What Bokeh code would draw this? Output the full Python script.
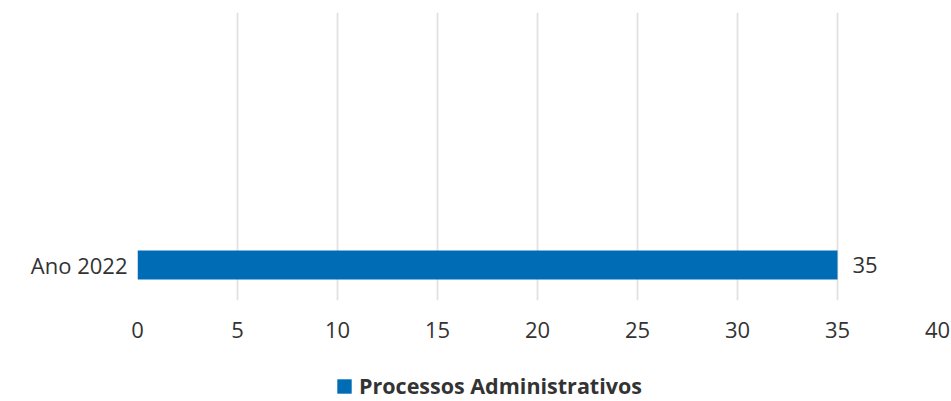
from bokeh.plotting import figure
from bokeh.layouts import column
from bokeh.models import Range1d, FixedTicker, Legend, LegendItem, ColumnDataSource, LabelSet
from bokeh.core.properties import value
from bokeh.embed import file_html
from bokeh.resources import INLINE

categories = ["Ano 2022"]
values = [35]
series_name = "Processos Administrativos"
x_ticks = [0, 5, 10, 15, 20, 25, 30, 35, 40]

FONT = "Open Sans"
TEXT = "#333333"
BLUE = "#006cb5"

ypos = list(range(len(categories)))
src = ColumnDataSource(dict(y=ypos, v=values, lbl=[str(v) for v in values]))

W = 951
H_MAIN = 352
H_LEG = 49

p = figure(width=W, height=H_MAIN, output_backend="svg", toolbar_location=None,
           x_range=Range1d(0, 40), y_range=Range1d(-0.49, 3.483),
           min_border_left=137, min_border_right=14, min_border_top=12,
           min_border_bottom=H_MAIN - 300)
p.outline_line_color = None
p.background_fill_color = "white"

r = p.hbar(y="y", right="v", left=0, height=0.4, source=src, color=BLUE, line_color=None)

labels = LabelSet(x="v", y="y", text="lbl", source=src, x_offset=15, text_baseline="middle",
                  text_font=value(FONT), text_font_size="22px", text_color=TEXT)
p.add_layout(labels)

p.xaxis.ticker = FixedTicker(ticks=x_ticks)
p.xaxis.axis_line_color = None
p.xaxis.major_tick_line_color = None
p.xaxis.minor_tick_line_color = None
p.xaxis.major_tick_out = 0
p.xaxis.major_tick_in = 0
p.xaxis.major_label_standoff = 21
p.xaxis.major_label_text_font = FONT
p.xaxis.major_label_text_font_size = "22px"
p.xaxis.major_label_text_color = TEXT

p.yaxis.ticker = FixedTicker(ticks=ypos)
p.yaxis.major_label_overrides = {i: c for i, c in enumerate(categories)}
p.yaxis.axis_line_color = None
p.yaxis.major_tick_line_color = None
p.yaxis.minor_tick_line_color = None
p.yaxis.major_tick_out = 0
p.yaxis.major_tick_in = 0
p.yaxis.major_label_standoff = 10
p.yaxis.major_label_text_font = FONT
p.yaxis.major_label_text_font_size = "22px"
p.yaxis.major_label_text_color = TEXT

p.ygrid.grid_line_color = None
p.xgrid.grid_line_color = "#e0e0e0"
p.xgrid.grid_line_width = 1.7

# legend strip under the chart
q = figure(width=W, height=H_LEG, output_backend="svg", toolbar_location=None,
           x_range=Range1d(0, 40), y_range=Range1d(10, 11),
           min_border_left=0, min_border_right=0, min_border_top=0, min_border_bottom=0)
q.outline_line_color = None
q.axis.visible = False
q.grid.visible = False
r2 = q.hbar(y="y", right="v", left=0, height=0.4, source=src, color=BLUE, line_color=None)

legend = Legend(items=[LegendItem(label=series_name, renderers=[r2])],
                orientation="horizontal", location=(198, 1),
                label_text_font=FONT, label_text_font_size="21.5px", label_text_font_style="bold",
                label_text_color=TEXT, glyph_width=18, glyph_height=18, label_standoff=6,
                border_line_color=None, background_fill_alpha=0, padding=0, margin=0,
                label_height=18)
q.add_layout(legend, "center")

layout = column(p, q, spacing=0)
open("out.html", "w").write(file_html(layout, INLINE))
